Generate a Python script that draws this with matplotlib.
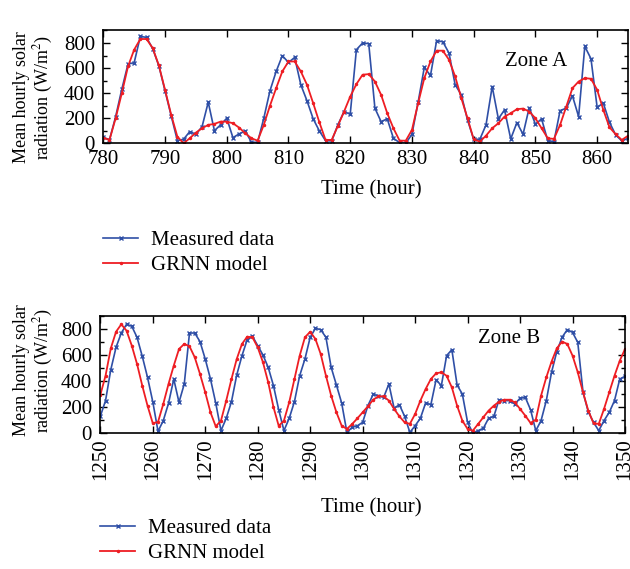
import numpy as np
import matplotlib
matplotlib.use("Agg")
import matplotlib.pyplot as plt
from matplotlib.ticker import MultipleLocator

plt.rcParams["font.family"] = ["Liberation Serif", "DejaVu Serif"]
plt.rcParams["mathtext.fontset"] = "stix"

# Zone A: hours 780-865
hours_a = np.arange(780, 866)
measured_a = [
    48, 27, 213, 432, 632, 643, 853, 845, 755, 619,
    419, 219, 21, 32, 93, 72, 133, 328, 101, 147,
    200, 45, 75, 99, 8, 8, 200, 419, 573, 699,
    645, 685, 467, 339, 195, 99, 21, 19, 147, 253,
    232, 747, 800, 795, 280, 173, 195, 40, 5, 0,
    72, 328, 605, 541, 819, 810, 720, 467, 387, 187,
    32, 32, 147, 453, 195, 267, 35, 165, 72, 285,
    152, 195, 21, 13, 261, 280, 379, 213, 773, 675,
    288, 320, 168, 67, 19, 40,
]
grnn_a = [
    45, 27, 200, 400, 613, 747, 832, 832, 760, 621,
    427, 227, 53, 0, 40, 85, 120, 147, 155, 173,
    173, 160, 125, 80, 40, 21, 147, 300, 440, 573,
    653, 653, 573, 467, 320, 168, 27, 27, 139, 253,
    373, 472, 547, 552, 493, 387, 240, 120, 21, 21,
    107, 320, 520, 653, 739, 739, 667, 533, 360, 200,
    32, 13, 61, 120, 160, 213, 240, 272, 277, 253,
    200, 120, 40, 35, 147, 293, 440, 493, 520, 515,
    427, 267, 128, 72, 27, 60,
]

# Zone B: hours 1250-1350
hours_b = np.arange(1250, 1351)
measured_b = [
    128, 249, 487, 659, 769, 836, 821, 736, 590, 428,
    241, 13, 95, 228, 415, 236, 377, 769, 769, 703,
    569, 415, 231, 18, 113, 241, 446, 595, 718, 744,
    672, 600, 505, 365, 179, 18, 113, 241, 441, 569,
    736, 805, 795, 736, 505, 369, 231, 5, 44, 56,
    82, 210, 297, 287, 274, 377, 190, 218, 128, 5,
    56, 113, 231, 218, 410, 364, 595, 641, 369, 300,
    82, 0, 18, 36, 113, 128, 256, 249, 249, 223,
    267, 274, 179, 18, 95, 249, 467, 626, 736, 795,
    774, 697, 313, 164, 82, 18, 95, 159, 249, 415,
    436,
]
grnn_b = [
    292, 441, 651, 779, 836, 787, 672, 531, 364, 210,
    75, 85, 223, 377, 518, 646, 685, 667, 582, 454,
    313, 159, 51, 95, 249, 415, 569, 685, 741, 736,
    659, 544, 390, 200, 55, 95, 236, 415, 595, 736,
    779, 723, 608, 441, 287, 159, 56, 31, 69, 113,
    159, 205, 256, 282, 282, 249, 185, 128, 82, 70,
    146, 249, 338, 415, 459, 467, 440, 351, 210, 95,
    31, 18, 69, 121, 172, 210, 241, 256, 256, 236,
    185, 133, 77, 103, 287, 428, 549, 651, 703, 685,
    595, 467, 313, 172, 75, 70, 185, 313, 441, 556,
    646,
]

BLUE = "#2f4fa6"
RED = "#ee1d23"
FS = 15
W, H = 630, 569

fig = plt.figure(figsize=(W / 100, H / 100), dpi=100)


def px_axes(left, top, right, bottom):
    return fig.add_axes([left / W, 1 - bottom / H, (right - left) / W, (bottom - top) / H])


def style(ax, xlim, rotate):
    ax.set_xlim(*xlim)
    ax.set_ylim(0, 900)
    ax.xaxis.set_major_locator(MultipleLocator(10))
    ax.yaxis.set_major_locator(MultipleLocator(200))
    ax.yaxis.set_minor_locator(MultipleLocator(100))
    ax.tick_params(which="both", direction="in", top=True, right=True,
                   labelsize=FS, width=1.0)
    ax.tick_params(which="major", length=5)
    ax.tick_params(axis="x", which="major", pad=5)
    ax.tick_params(axis="y", which="major", pad=6)
    ax.tick_params(which="minor", length=3)
    ax.tick_params(axis="x", which="minor", top=False, bottom=False)
    if rotate:
        ax.tick_params(axis="x", labelrotation=90, pad=4)
    for s in ax.spines.values():
        s.set_linewidth(1.2)


def draw(ax, x, m, g):
    lm, = ax.plot(x, m, color=BLUE, lw=1.2, marker="x", ms=2.5, mew=1.0,
                  label="Measured data")
    lg, = ax.plot(x, g, color=RED, lw=1.3, marker=".", ms=3,
                  label="GRNN model")
    return lm, lg


ylabel = "Mean hourly solar\nradiation (W/m$^2$)"


def add_ylabel(xc, yc):
    fig.text(xc / W, 1 - yc / H, ylabel, fontsize=13, rotation=90,
             ha="center", va="center", linespacing=1.15, multialignment="center")


def add_legend(handles, x, y):
    fig.legend(handles=handles, loc="center left", bbox_to_anchor=(x / W, 1 - y / H),
               frameon=False, fontsize=FS, handlelength=1.7, handletextpad=0.6,
               labelspacing=0.28, borderpad=0, borderaxespad=0)


# Zone A panel
ax1 = px_axes(103.3, 30.5, 628, 143.3)
h1 = draw(ax1, hours_a, measured_a, grnn_a)
style(ax1, (780, 865), False)
ax1.text(845, 650, "Zone A", fontsize=FS, va="center", ha="left")
add_ylabel(34, 97)
fig.text(371 / W, 1 - 190 / H, "Time (hour)", fontsize=FS, ha="center", va="center")
add_legend(h1, 103, 253)

# Zone B panel
ax2 = px_axes(100.3, 316, 625, 433)
h2 = draw(ax2, hours_b, measured_b, grnn_b)
style(ax2, (1250, 1350), True)
ax2.text(1322, 724, "Zone B", fontsize=FS, va="center", ha="left")
add_ylabel(34, 370)
fig.text(371 / W, 1 - 508 / H, "Time (hour)", fontsize=FS, ha="center", va="center")
add_legend(h2, 100, 541)

fig.savefig("out.png", dpi=100)
